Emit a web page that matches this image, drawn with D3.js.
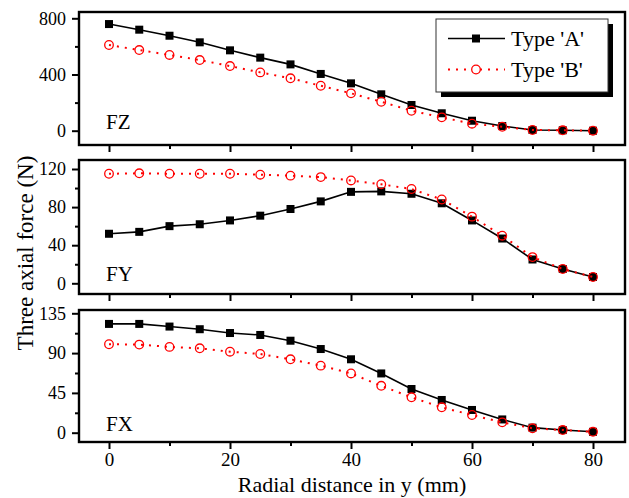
<!DOCTYPE html>
<html>
<head>
<meta charset="utf-8">
<script src="https://cdn.jsdelivr.net/npm/d3@7"></script>
<style>
  body { margin: 0; background: #fff; }
  svg { display: block; }
  text { font-family: "Liberation Serif", "Times New Roman", serif; fill: #000; }
</style>
</head>
<body>
<div id="chart"></div>
<script>
// radial distance (mm)
const xs = [0, 5, 10, 15, 20, 25, 30, 35, 40, 45, 50, 55, 60, 65, 70, 75, 80]
const xTicks = [0, 20, 40, 60, 80]
const xMinor = [10, 30, 50, 70]

// FZ
const fzA = [759, 719, 676, 629, 572, 520, 472, 404, 337, 259, 183, 124, 71, 33, 5, 3, 0]
const fzB = [610, 574, 539, 503, 460, 415, 373, 320, 266, 206, 142, 95, 50, 28, 5, 3, 0]
const fzTicks = [0, 400, 800]
const fzMinor = [200, 600]

// FY
const fyA = [52, 54, 60, 62, 66, 71, 78, 86, 96, 96.5, 94, 84, 66, 47, 25, 15, 6.6]
const fyB = [115, 115.5, 115, 115, 115, 114, 113, 111.5, 108, 104, 99, 88, 70, 50, 27.5, 15, 6.6]
const fyTicks = [0, 40, 80, 120]
const fyMinor = [20, 60, 100]

// FX
const fxA = [123, 123, 120, 117, 112.7, 110.5, 104, 94.6, 83, 67, 49.4, 37, 25.7, 15, 5.7, 3, 1]
const fxB = [100, 99.6, 97, 95.4, 91.6, 89, 83, 75.8, 67, 53, 40, 28.7, 20, 11.7, 5, 3, 1]
const fxTicks = [0, 45, 90, 135]
const fxMinor = [22.5, 67.5, 112.5]

const seriesNames = ["Type 'A'", "Type 'B'"]

document.addEventListener("DOMContentLoaded", () => {
    let width = 629,
        height = 498

    let svg = d3.select('#chart')
        .append('svg')
        .attr("width", width)
        .attr("height", height)

    let frameLeft = 79, frameRight = 625

    let x = d3.scaleLinear().domain([0, 80]).range([109, 593])

    let panels = [
        { name: "FZ", a: fzA, b: fzB, ticks: fzTicks, minor: fzMinor, max: 800, top: 12, bottom: 145, y0: 130.7, yMax: 18.3 },
        { name: "FY", a: fyA, b: fyB, ticks: fyTicks, minor: fyMinor, max: 120, top: 160, bottom: 294, y0: 283.3, yMax: 169 },
        { name: "FX", a: fxA, b: fxB, ticks: fxTicks, minor: fxMinor, max: 135, top: 310, bottom: 442, y0: 432.7, yMax: 313.3 }
    ]

    panels.forEach((p, i) => {
        let y = d3.scaleLinear().domain([0, p.max]).range([p.y0, p.yMax])
        let g = svg.append("g")

        // left axis, major + minor
        let yAxis = g.append("g")
            .attr("transform", `translate(${frameLeft},0)`)
            .call(d3.axisLeft(y).tickValues(p.ticks).tickSize(7).tickPadding(6).tickFormat(d3.format("d")))
        yAxis.select(".domain").remove()
        yAxis.attr("font-family", null)
        yAxis.selectAll("line").attr("stroke-width", 2)
        yAxis.selectAll("text").attr("font-size", 18)

        let yMinorAxis = g.append("g")
            .attr("transform", `translate(${frameLeft},0)`)
            .call(d3.axisLeft(y).tickValues(p.minor).tickSize(4).tickFormat(""))
        yMinorAxis.select(".domain").remove()
        yMinorAxis.selectAll("line").attr("stroke-width", 2)

        // bottom ticks on every panel, labels only on the last one
        let xAxis = g.append("g")
            .attr("transform", `translate(0,${p.bottom})`)
            .call(d3.axisBottom(x).tickValues(xTicks).tickSize(7).tickPadding(4)
                .tickFormat(i === panels.length - 1 ? d3.format("d") : ""))
        xAxis.select(".domain").remove()
        xAxis.attr("font-family", null)
        xAxis.selectAll("line").attr("stroke-width", 2)
        xAxis.selectAll("text").attr("font-size", 19)

        let xMinorAxis = g.append("g")
            .attr("transform", `translate(0,${p.bottom})`)
            .call(d3.axisBottom(x).tickValues(xMinor).tickSize(4).tickFormat(""))
        xMinorAxis.select(".domain").remove()
        xMinorAxis.selectAll("line").attr("stroke-width", 2)

        // series A: black solid with filled squares
        let line = d3.line().x((d, j) => x(xs[j])).y(d => y(d))
        g.append("path")
            .attr("d", line(p.a))
            .attr("fill", "none")
            .attr("stroke", "#000")
            .attr("stroke-width", 1.6)
        g.selectAll(".sqA")
            .data(p.a)
            .enter().append("rect")
            .attr("x", (d, j) => x(xs[j]) - 4)
            .attr("y", d => y(d) - 4)
            .attr("width", 8)
            .attr("height", 8)
            .attr("fill", "#000")

        // series B: red dotted with open circles
        g.append("path")
            .attr("d", line(p.b))
            .attr("fill", "none")
            .attr("stroke", "#ff0000")
            .attr("stroke-width", 2)
            .attr("stroke-dasharray", "2,6")
        g.selectAll(".cirB")
            .data(p.b)
            .enter().append("circle")
            .attr("cx", (d, j) => x(xs[j]))
            .attr("cy", d => y(d))
            .attr("r", 4.3)
            .attr("fill", "none")
            .attr("stroke", "#ff0000")
            .attr("stroke-width", 1.3)

        // frame
        g.append("rect")
            .attr("x", frameLeft)
            .attr("y", p.top)
            .attr("width", frameRight - frameLeft)
            .attr("height", p.bottom - p.top)
            .attr("fill", "none")
            .attr("stroke", "#000")
            .attr("stroke-width", 2.4)

        g.append("text")
            .attr("x", 106)
            .attr("y", p.y0 - 2)
            .attr("font-size", 21)
            .text(p.name)
    })

    // legend with drop shadow
    let lg = svg.append("g")
    lg.append("rect")
        .attr("x", 441).attr("y", 24)
        .attr("width", 172).attr("height", 73)
        .attr("fill", "#000")
    lg.append("rect")
        .attr("x", 436).attr("y", 19)
        .attr("width", 172).attr("height", 73)
        .attr("fill", "#fff")
        .attr("stroke", "#333")
        .attr("stroke-width", 1)

    lg.append("line")
        .attr("x1", 448).attr("x2", 505).attr("y1", 38.5).attr("y2", 38.5)
        .attr("stroke", "#000").attr("stroke-width", 1.6)
    lg.append("rect")
        .attr("x", 472).attr("y", 34.5).attr("width", 8).attr("height", 8)
        .attr("fill", "#000")
    lg.append("line")
        .attr("x1", 448).attr("x2", 505).attr("y1", 69.5).attr("y2", 69.5)
        .attr("stroke", "#ff0000").attr("stroke-width", 2).attr("stroke-dasharray", "2,6")
    lg.append("circle")
        .attr("cx", 476).attr("cy", 69.5).attr("r", 4.3)
        .attr("fill", "#fff").attr("stroke", "#ff0000").attr("stroke-width", 1.3)

    lg.selectAll(".lgText")
        .data(seriesNames)
        .enter().append("text")
        .attr("x", 511)
        .attr("y", (d, i) => 45.5 + i * 31)
        .attr("font-size", 22)
        .text(d => d)

    // axis titles
    svg.append("text")
        .attr("x", 352)
        .attr("y", 492)
        .attr("text-anchor", "middle")
        .attr("font-size", 22)
        .text("Radial distance in y (mm)")

    svg.append("text")
        .attr("transform", "translate(33,253) rotate(-90)")
        .attr("text-anchor", "middle")
        .attr("font-size", 23)
        .text("Three axial force (N)")
})
</script>
</body>
</html>
